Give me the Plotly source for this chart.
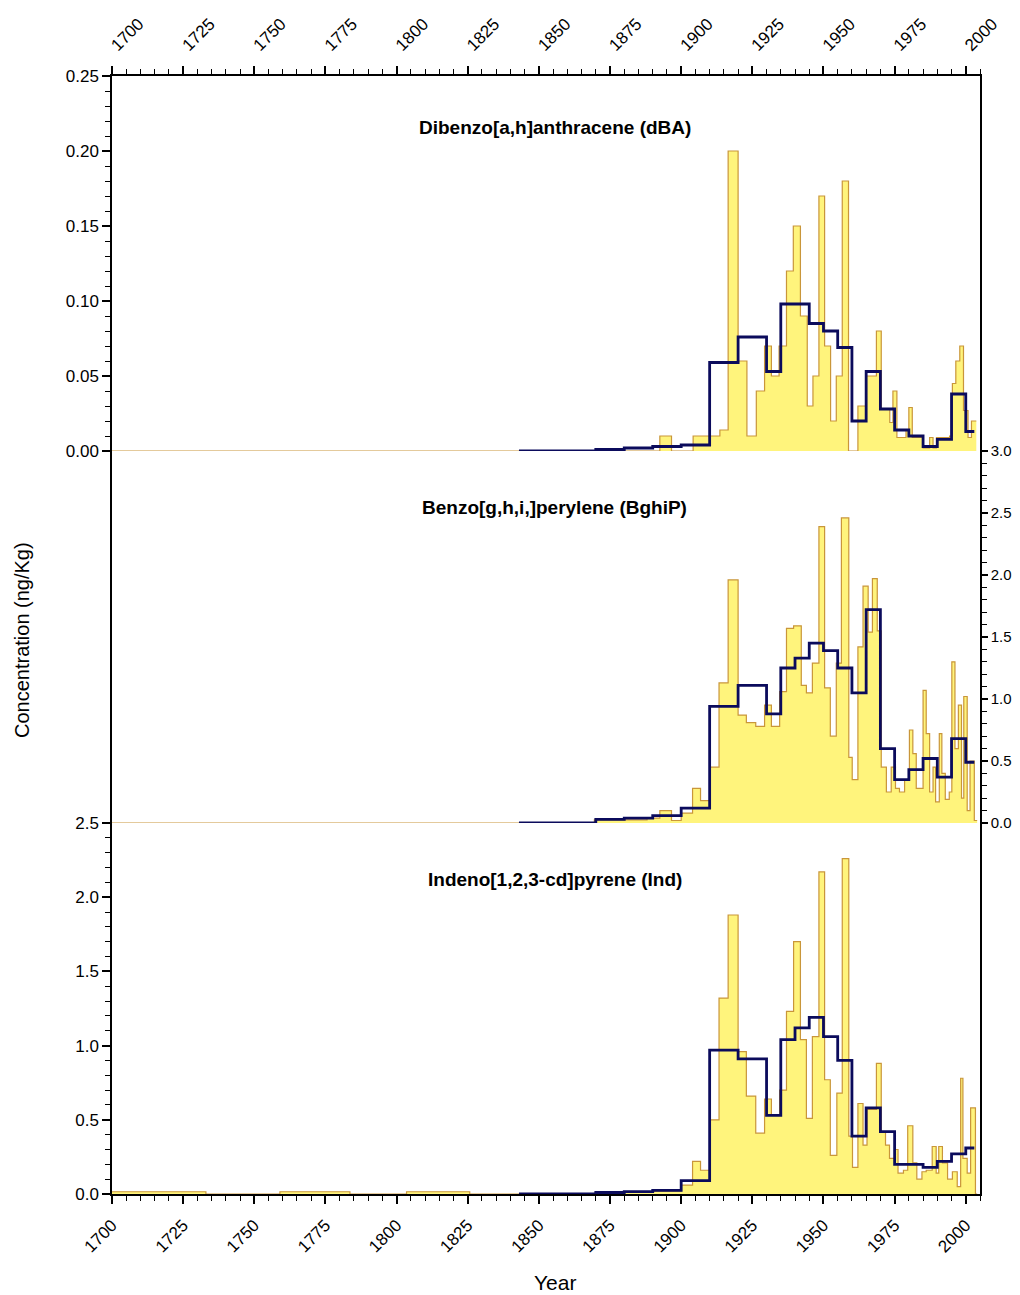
import plotly.graph_objects as go

# yellow bars: slice edges (years) and concentrations
dba_edges = [1700, 1892.5, 1896.6, 1904.2, 1913.6, 1916.5, 1920, 1923.1, 1926.4, 1929.3, 1931.7,
             1934.4, 1937, 1939.4, 1941.9, 1944.3, 1946.3, 1948.4, 1950.4, 1952.5, 1954.5, 1956.6,
             1958.8, 1962.1, 1964.8, 1968.6, 1970.3, 1973.3, 1974.4, 1975.8, 1979, 1980, 1981.2,
             1985, 1987.3, 1988.5, 1989.7, 1994.3, 1995.3, 1996.5, 1997.9, 1999.2, 2000.8, 2002, 2003.7]
dba_vals = [0, 0.01, 0, 0.01, 0.014, 0.2, 0.06, 0.01, 0.04, 0.07,
            0.05, 0.07, 0.12, 0.15, 0.09, 0.03, 0.05, 0.17, 0.07, 0.02, 0.05,
            0.18, 0.0, 0.03, 0.05, 0.08, 0.028, 0.019, 0.04, 0.009, 0.014, 0.029,
            0.009, 0.002, 0.009, 0.002, 0.009, 0.01, 0.045, 0.06, 0.07, 0.027, 0.009, 0.02]

bghip_edges = [1700, 1869.5, 1888, 1892.5, 1896.6, 1900, 1904, 1906.8, 1910, 1913.3, 1916.5,
               1920, 1922.9, 1926.2, 1929.3, 1931.7, 1934.6, 1937, 1939.5, 1942.2, 1944, 1946.1,
               1948.4, 1950.4, 1952.4, 1954.5, 1956.3, 1958.9, 1960.1, 1962.1, 1963.9, 1965.7,
               1967.2, 1968.9, 1970.3, 1972.1, 1973.8, 1975.3, 1976.7, 1978.5, 1980.2, 1981.4,
               1982.6, 1985, 1986.1, 1987.3, 1988.5, 1989.4, 1990.7, 1991.6, 1992.8, 1994.2,
               1995.1, 1996.2, 1997.4, 1998.5, 1999.3, 2000.5, 2001.5, 2003, 2004]
bghip_vals = [0, 0.025, 0.04, 0.1, 0.02, 0.08, 0.28, 0.18, 0.45, 1.13,
              1.96, 0.87, 0.81, 0.78, 0.95, 0.78, 1.06, 1.57, 1.59, 1.11, 1.05,
              1.29, 2.39, 1.09, 0.70, 1.29, 2.46, 0.53, 0.35, 1.42, 1.91,
              1.54, 1.97, 1.55, 0.45, 0.25, 0.45, 0.28, 0.25, 0.35, 0.75,
              0.56, 0.28, 1.07, 0.72, 0.25, 0.45, 0.17, 0.72, 0.40, 0.19,
              0.25, 1.30, 0.6, 0.95, 0.2, 1.02, 0.1, 0.5, 0.02]

ind_edges = [1700, 1733, 1759, 1783.6, 1803.5, 1825.7, 1869.5, 1880, 1890, 1900, 1904,
             1906.8, 1910, 1913.3, 1916.5, 1920, 1922.9, 1926.2, 1929.3, 1931.7, 1934.6,
             1937, 1939.5, 1941.9, 1944, 1946.1, 1948.4, 1950.4, 1952.4, 1954.7, 1956.6,
             1958.9, 1960.2, 1962.1, 1963.9, 1965.3, 1968.6, 1970.3, 1971.8, 1973.2, 1975,
             1976.2, 1978.1, 1979.6, 1981.4, 1982.8, 1984.6, 1986.1, 1988.2, 1989.6, 1990.5,
             1991.8, 1993.6, 1995.3, 1997, 1998.2, 1999, 2000.5, 2001.7, 2003.4, 2004]
ind_vals = [0.015, 0.0, 0.015, 0.0, 0.015, 0, 0.005, 0.01, 0.02, 0.06,
            0.22, 0.16, 0.50, 1.32, 1.88, 0.96, 0.66, 0.41, 0.64, 0.53,
            0.70, 1.23, 1.70, 1.04, 0.51, 1.06, 2.17, 0.77, 0.26, 0.68,
            2.26, 0.39, 0.18, 0.61, 0.33, 0.57, 0.88, 0.42, 0.33, 0.24,
            0.30, 0.14, 0.16, 0.46, 0.21, 0.10, 0.15, 0.16, 0.32, 0.14,
            0.32, 0.21, 0.10, 0.15, 0.05, 0.78, 0.24, 0.14, 0.58, 0]

# dark blue line: averaged values over coarser intervals
avg_edges = [1843, 1870, 1880, 1890, 1900, 1910, 1920, 1930, 1935, 1940, 1945, 1950,
             1955, 1960, 1965, 1970, 1975, 1980, 1985, 1990, 1995, 2000, 2003]
dba_avg = [0, 0.001, 0.002, 0.003, 0.004, 0.059, 0.076, 0.053, 0.098, 0.098, 0.085,
           0.080, 0.069, 0.02, 0.053, 0.028, 0.014, 0.01, 0.003, 0.0077, 0.038, 0.013]
bghip_avg = [0, 0.03, 0.04, 0.06, 0.12, 0.94, 1.11, 0.88, 1.25, 1.33, 1.45,
             1.39, 1.25, 1.05, 1.72, 0.60, 0.35, 0.43, 0.52, 0.37, 0.68, 0.49]
ind_avg = [0, 0.01, 0.016, 0.025, 0.09, 0.97, 0.91, 0.53, 1.04, 1.12, 1.19,
           1.06, 0.90, 0.39, 0.58, 0.42, 0.20, 0.20, 0.18, 0.22, 0.27, 0.31]

year_ticks = list(range(1700, 2001, 25))

titles = ["Dibenzo[a,h]anthracene (dBA)", "Benzo[g,h,i,]perylene (BghiP)",
          "Indeno[1,2,3-cd]pyrene (Ind)"]

FILL = "#FFF47C"
EDGE = "#C9963A"
NAVY = "#0B0B5C"
FONT = "Liberation Sans"

fig = go.Figure()

panels = [
    (dba_edges, dba_vals, dba_avg, "x3", "y3"),
    (bghip_edges, bghip_vals, bghip_avg, "x2", "y2"),
    (ind_edges, ind_vals, ind_avg, "x", "y"),
]
for edges, vals, avg, xa, ya in panels:
    fig.add_trace(go.Scatter(
        x=edges, y=vals + [vals[-1]], mode="lines", line_shape="hv",
        line=dict(color=EDGE, width=1.2), fill="tozeroy", fillcolor=FILL,
        xaxis=xa, yaxis=ya, showlegend=False, hoverinfo="skip"))
    fig.add_trace(go.Scatter(
        x=avg_edges, y=avg + [avg[-1]], mode="lines", line_shape="hv",
        line=dict(color=NAVY, width=2.8),
        xaxis=xa, yaxis=ya, showlegend=False))

d1 = 371 / 1118
d2 = 743 / 1118

tickfont = dict(family=FONT, size=17, color="black")
minor_y = dict(ticks="outside", ticklen=5, tickcolor="black", tickwidth=1.2)
xcommon = dict(range=[1700, 2005], tickvals=year_ticks, tickangle=-45,
               ticks="outside", ticklen=8, tickwidth=1.5, tickcolor="black",
               minor=dict(dtick=5, tick0=1700, ticks="outside", ticklen=5, tickcolor="black", tickwidth=1.2),
               showgrid=False, zeroline=False, tickfont=tickfont, automargin=False,
               ticklabelstandoff=5,
               showline=True, linecolor="black", linewidth=1.5)
ycommon = dict(ticks="outside", tickwidth=1.5, tickcolor="black",
               showgrid=False, zeroline=False, automargin=False,
               showline=True, linecolor="black", linewidth=1.5, mirror=True)

# page body adds an 8px offset, so the figure is 8px smaller each way
fig.update_layout(
    width=1012, height=1287,
    margin=dict(l=104, r=40, t=68, b=101),
    paper_bgcolor="white", plot_bgcolor="white",
    font=dict(family=FONT, color="black"),
    xaxis=dict(**xcommon, anchor="y", domain=[0, 1]),
    xaxis2=dict(range=[1700, 2005], matches="x", anchor="y2", showticklabels=False,
                ticks="", showgrid=False, zeroline=False, showline=False),
    xaxis3=dict(**xcommon, anchor="y3", side="top", matches="x"),
    yaxis=dict(**ycommon, domain=[0, d1], range=[0, 2.5], dtick=0.5, tickformat=".1f",
               ticklen=8, tickfont=tickfont, minor=dict(dtick=0.1, **minor_y)),
    yaxis2=dict(**ycommon, domain=[d1, d2], range=[0, 3.0], dtick=0.5, tickformat=".1f",
                side="right", anchor="x2", ticklen=6, ticklabelstandoff=0,
                tickfont=dict(family=FONT, size=15, color="black"),
                minor=dict(dtick=0.1, **minor_y)),
    yaxis3=dict(**ycommon, domain=[d2, 1], range=[0, 0.25], dtick=0.05, tickformat=".2f",
                anchor="x3", ticklen=8, tickfont=tickfont,
                minor=dict(dtick=0.01, **minor_y)),
)

title_y = [0.9535, 0.6136, 0.2809]
for t, ty in zip(titles, title_y):
    fig.add_annotation(text="<b>" + t + "</b>", xref="paper", yref="paper",
                       x=0.51, y=ty, xanchor="center", yanchor="middle", showarrow=False,
                       font=dict(family=FONT, size=19, color="black"))

fig.add_annotation(text="Year", xref="paper", yref="paper", x=0.51, y=-0.0796,
                   xanchor="center", yanchor="middle",
                   showarrow=False, font=dict(family=FONT, size=21, color="black"))
fig.add_annotation(text="Concentration (ng/Kg)", xref="paper", yref="paper",
                   x=-0.1037, y=0.4955, textangle=-90, xanchor="center", yanchor="middle",
                   showarrow=False, font=dict(family=FONT, size=20, color="black"))

fig.write_html("out.html")
